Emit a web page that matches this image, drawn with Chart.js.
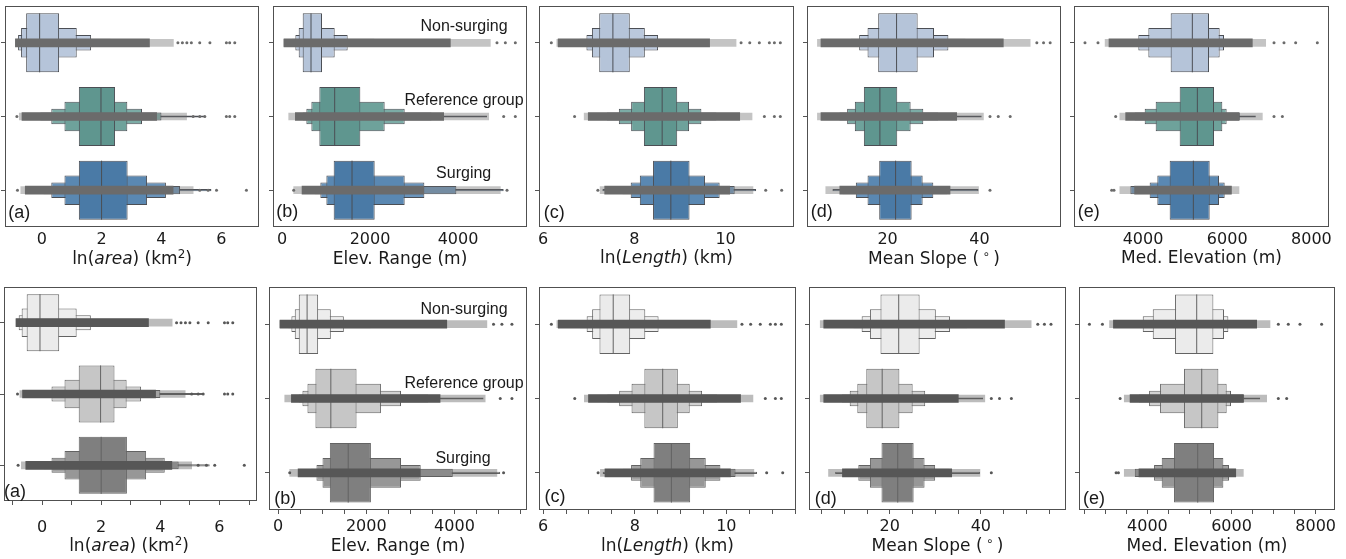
<!DOCTYPE html>
<html><head><meta charset="utf-8">
<script src="https://cdn.jsdelivr.net/npm/chart.js@4.4.1/dist/chart.umd.min.js"></script>
<style>
html,body{margin:0;padding:0;background:#fff;width:1346px;height:559px;overflow:hidden;position:relative}
canvas{position:absolute}
.t{position:absolute;white-space:nowrap;transform:translate(-50%,-50%);line-height:1;color:#1a1a1a;z-index:5}
.ttl{font-family:'DejaVu Sans';font-size:17px}
.let{font-family:'Liberation Sans';font-size:18px}
.ann{font-family:'Liberation Sans';font-size:16px}
.sup{font-size:0.7em;position:relative;top:-0.5em}
</style></head><body>
<script>
// ---------------- data ----------------
const groups = ['Non-surging', 'Reference group', 'Surging'];

// (a) ln(area) (km2)
const areaTicks = [0, 2, 4, 6];
const areaMedian = [-0.07, 1.98, 2.00];
const areaBoxes = [
  [[-0.52, 0.58], [1.24, 2.45], [1.24, 2.87]],
  [[-0.69, 1.17], [0.76, 2.86], [0.76, 3.52]],
  [[-0.79, 1.65], [0.32, 3.35], [0.32, 4.15]],
  [[-0.85, 2.30], [-0.05, 4.00], [0.06, 4.62]],
  [null, [-0.55, 5.45], [-0.55, 5.67]]
];
const areaDense = [[-0.88, 3.60], [-0.66, 3.84], [-0.55, 4.39]];
const areaSparse = [[-0.88, 4.40], [-0.75, 4.84], [-0.70, 5.06]];
const areaOutliers = [
  [4.55, 4.70, 4.85, 5.00, 5.28, 5.62, 6.17, 6.28, 6.45],
  [-0.83, 5.06, 5.28, 5.45, 6.17, 6.28, 6.45],
  [-0.81, 5.28, 5.56, 5.84, 6.84]
];

// (b) Elev. Range (m)
const rangeTicks = [0, 2000, 4000];
const rangeMedian = [659, 1197, 1591];
const rangeBoxes = [
  [[470, 909], [848, 1780], [1174, 2106]],
  [[379, 1197], [667, 2333], [1008, 2788]],
  [[303, 1492], [553, 2788], [871, 3235]],
  [[230, 2100], [470, 3400], [742, 3962]],
  [null, [300, 4660], [490, 5038]]
];
const rangeDense = [[45, 3826], [303, 3674], [455, 3220]];
const rangeSparse = [[38, 4735], [152, 4697], [265, 4962]];
const rangeOutliers = [
  [4886, 5076, 5303],
  [5038, 5303],
  [265, 5114]
];

// (c) ln(Length) (km)
const lengthTicks = [6, 8, 10];
const lengthMedian = [7.53, 8.61, 8.80];
const lengthBoxes = [
  [[7.23, 7.90], [8.21, 8.94], [8.41, 9.21]],
  [[7.07, 8.23], [7.93, 9.20], [8.12, 9.55]],
  [[6.95, 8.52], [7.66, 9.47], [7.92, 9.87]],
  [[6.80, 9.00], [7.40, 9.80], [7.74, 10.20]],
  [null, null, [7.30, 10.67]]
];
const lengthDense = [[6.33, 9.65], [6.99, 10.31], [7.35, 10.09]];
const lengthSparse = [[6.30, 10.23], [6.90, 10.58], [7.25, 10.60]];
const lengthOutliers = [
  [6.18, 10.34, 10.53, 10.74, 10.96, 11.07, 11.20],
  [6.69, 10.85, 11.07, 11.20],
  [7.20, 10.88, 11.23]
];

// (d) Mean Slope (deg)
const slopeTicks = [20, 40];
const slopeMedian = [21.96, 18.33, 21.75];
const slopeBoxes = [
  [[17.96, 26.55], [14.84, 22.11], [18.18, 25.24]],
  [[15.64, 30.11], [12.87, 25.02], [15.64, 27.64]],
  [[13.82, 33.24], [11.20, 27.78], [13.09, 29.96]],
  [[12.0, 37.0], [9.5, 31.0], [10.18, 33.0]],
  [null, [7.0, 40.5], [8.0, 39.8]]
];
const slopeDense = [[5.5, 45.2], [5.5, 35.05], [9.6, 33.6]];
const slopeSparse = [[4.73, 51.05], [4.73, 40.87], [6.55, 39.8]];
const slopeOutliers = [
  [52.5, 53.96, 55.4],
  [42.3, 44.1, 46.7],
  [42.3]
];

// (e) Med. Elevation (m)
const elevTicks = [4000, 6000, 8000];
const elevMedian = [5172, 5291, 5196];
const elevBoxes = [
  [[4657, 5568], [4871, 5687], [4633, 5584]],
  [[4127, 5821], [4301, 5884], [4340, 5805]],
  [[3889, 5924], [4040, 5987], [4158, 5940]],
  [null, [3800, 6300], [3700, 6100]],
  [null, [3600, 6680], null]
];
const elevDense = [[3192, 6597], [3588, 6280], [3800, 6100]];
const elevSparse = [[3100, 6914], [3450, 6835], [3450, 6280]];
const elevOutliers = [
  [2622, 2931, 7112, 7349, 7626, 8141],
  [3351, 7112, 7310],
  [3256, 3311]
];

// ---------------- styling / layout ----------------
const levelFrac = [0.8, 0.4, 0.21, 0.11, 0.03];
const topPalette = {
  levels: [
    ['#b5c4d9', '#5f968f', '#4a7aa6'],
    ['#bac8dc', '#6ea29b', '#5a88b2'],
    ['#bfcce0', '#7caca6', '#6a95bd'],
    ['#c6d2e4', '#8ab6b0', '#7aa2c6'],
    ['#cdd7e7', '#8ab6b0', '#7aa2c6']
  ],
  edge: '#4b4e54', strip: '#6b6b6b', sparse: 'rgba(107,107,107,0.4)'
};
const bottomPalette = {
  levels: [
    ['#ebebeb', '#c6c6c6', '#7f7f7f'],
    ['#ededed', '#cccccc', '#979797'],
    ['#efefef', '#d2d2d2', '#a2a2a2'],
    ['#f1f1f1', '#d8d8d8', '#adadad'],
    ['#f3f3f3', '#dddddd', '#b8b8b8']
  ],
  edge: '#636363', strip: '#575757', sparse: 'rgba(87,87,87,0.4)'
};

const panelData = [
  {median: areaMedian, boxes: areaBoxes, dense: areaDense, sparse: areaSparse, outliers: areaOutliers, ticks: areaTicks},
  {median: rangeMedian, boxes: rangeBoxes, dense: rangeDense, sparse: rangeSparse, outliers: rangeOutliers, ticks: rangeTicks},
  {median: lengthMedian, boxes: lengthBoxes, dense: lengthDense, sparse: lengthSparse, outliers: lengthOutliers, ticks: lengthTicks},
  {median: slopeMedian, boxes: slopeBoxes, dense: slopeDense, sparse: slopeSparse, outliers: slopeOutliers, ticks: slopeTicks},
  {median: elevMedian, boxes: elevBoxes, dense: elevDense, sparse: elevSparse, outliers: elevOutliers, ticks: elevTicks}
];

const layoutTop = [
  {fx: 5, fy: 6, fw: 254, fh: 221, min: -1.227, max: 7.26, step: 0, lp: 3},
  {fx: 273, fy: 6, fw: 254, fh: 221, min: -205, max: 5568, step: 0, lp: 3},
  {fx: 539, fy: 6, fw: 255, fh: 221, min: 5.91, max: 11.50, step: 0, lp: 3},
  {fx: 807, fy: 6, fw: 254, fh: 221, min: 2.46, max: 57.76, step: 0, lp: 3},
  {fx: 1074, fy: 6, fw: 255, fh: 221, min: 2361, max: 8418, step: 0, lp: 3}
];
const layoutBottom = [
  {fx: 1, fy: 287, fw: 256, fh: 214, min: -1.287, max: 7.27, step: 1, lp: 13},
  {fx: 269, fy: 287, fw: 258, fh: 223, min: -205, max: 5645, step: 500, lp: 3.5},
  {fx: 539, fy: 287, fw: 257, fh: 223, min: 5.91, max: 11.52, step: 0.5, lp: 3},
  {fx: 809, fy: 287, fw: 257, fh: 223, min: 2.26, max: 58.7, step: 5, lp: 3},
  {fx: 1079, fy: 287, fw: 256, fh: 223, min: 2374, max: 8459, step: 500, lp: 3.5}
];

const framePlugin = {
  id: 'frame',
  afterDraw(chart) {
    const a = chart.chartArea, c = chart.ctx;
    c.save();
    c.strokeStyle = '#505050';
    c.lineWidth = 1;
    c.strokeRect(Math.round(a.left) + 0.5, Math.round(a.top) + 0.5,
                 Math.round(a.right - a.left) - 1, Math.round(a.bottom - a.top) - 1);
    c.restore();
  }
};

function tickValues(L, D) {
  if (!L.step) return D.ticks.slice();
  const out = [];
  for (let v = Math.ceil(L.min / L.step) * L.step; v <= L.max + 1e-9; v += L.step) {
    out.push(Math.round(v * 1e6) / 1e6);
  }
  return out;
}

function buildPanel(L, D, row) {
  const padL = Math.min(L.fx, 12), padR = 16, padT = Math.min(L.fy, 8), padB = 40;
  const W = padL + L.fw + padR, H = padT + L.fh + padB;
  const cv = document.createElement('canvas');
  cv.width = W; cv.height = H;
  cv.style.left = (L.fx - padL) + 'px';
  cv.style.top = (L.fy - padT) + 'px';
  cv.style.width = W + 'px'; cv.style.height = H + 'px';
  document.body.appendChild(cv);
  const pal = row === 0 ? topPalette : bottomPalette;
  const datasets = [];
  const pts = [];
  D.outliers.forEach((arr, g) => arr.forEach(v => pts.push({x: v, y: groups[g]})));
  datasets.push({type: 'scatter', data: pts, pointRadius: 1.5, pointBackgroundColor: pal.strip,
                 pointBorderWidth: 0, order: 0});
  datasets.push({type: 'bar', data: D.dense, barThickness: 8, backgroundColor: pal.strip,
                 borderWidth: 0, grouped: false, order: 1});
  datasets.push({type: 'bar', data: D.sparse, barThickness: 7, backgroundColor: pal.sparse,
                 borderWidth: 0, grouped: false, order: 2});
  datasets.push({type: 'scatter', data: D.median.map((m, g) => ({x: m, y: groups[g]})),
                 pointStyle: 'line', pointRotation: 90,
                 pointRadius: c => { const a = c.chart.chartArea; return a ? (a.bottom - a.top) / 3 * levelFrac[0] / 2 : 0; },
                 pointBorderColor: pal.edge, pointBorderWidth: 1, order: 3});
  D.boxes.forEach((lv, k) => datasets.push({
    type: 'bar', data: lv, grouped: false, categoryPercentage: 1, barPercentage: levelFrac[k],
    backgroundColor: pal.levels[k], borderColor: pal.edge, borderWidth: 1, borderSkipped: false,
    order: 4 + k
  }));
  const isMajor = v => D.ticks.some(t => Math.abs(t - v) < 1e-6);
  const tv = tickValues(L, D);
  new Chart(cv, {
    type: 'bar',
    data: {labels: groups, datasets},
    options: {
      responsive: false, animation: false, events: [], indexAxis: 'y',
      layout: {padding: {left: 0, right: padR, top: padT, bottom: 0}},
      plugins: {legend: {display: false}, tooltip: {enabled: false}},
      scales: {
        x: {
          type: 'linear', position: 'bottom', min: L.min, max: L.max,
          border: {display: false},
          grid: {display: true, drawOnChartArea: false, drawTicks: row === 1, tickLength: 4, color: '#555'},
          ticks: {
            autoSkip: false, includeBounds: false, maxRotation: 0, minRotation: 0,
            padding: L.lp, color: '#1a1a1a', font: {family: 'DejaVu Sans', size: 16},
            callback: v => isMajor(v) ? String(Math.round(v)) : ''
          },
          afterBuildTicks: s => { s.ticks = tv.map(v => ({value: v})); },
          afterFit: s => { s.height = padB; s.paddingLeft = 0; s.paddingRight = 0; }
        },
        y: {
          type: 'category', labels: groups, offset: true, position: 'left',
          border: {display: false},
          grid: {display: true, drawOnChartArea: false, drawTicks: true, tickLength: 4, color: '#555', offset: false},
          ticks: {display: false},
          afterFit: s => { s.width = padL; s.paddingTop = 0; s.paddingBottom = 0; }
        }
      }
    },
    plugins: [framePlugin]
  });
}

layoutTop.forEach((L, i) => buildPanel(L, panelData[i], 0));
layoutBottom.forEach((L, i) => buildPanel(L, panelData[i], 1));

// ---------------- text ----------------
const titles = [
  'ln(<i>area</i>) (km<span class="sup">2</span>)',
  'Elev. Range (m)',
  'ln(<i>Length</i>) (km)',
  'Mean Slope (&thinsp;<span class="sup">∘</span>&thinsp;)',
  'Med. Elevation (m)'
];
const letters = ['(a)', '(b)', '(c)', '(d)', '(e)'];
const titleY = [[258, 258, 257, 258, 257], [545, 545, 545, 545, 545]];
const letterPos = [
  [[19.3, 212], [287.2, 211], [554.2, 212], [821.7, 211], [1088.8, 211]],
  [[15, 491], [285.3, 497.5], [555, 496], [825.7, 497.5], [1094, 497.5]]
];
const annText = ['Non-surging', 'Reference group', 'Surging'];
const annPos = [
  [[464, 26], [464, 100], [463.7, 172.5]],
  [[464, 308.5], [464, 383], [463, 457.5]]
];
function addText(cls, html, x, y) {
  const d = document.createElement('div');
  d.className = 't ' + cls;
  d.innerHTML = html;
  d.style.left = x + 'px';
  d.style.top = y + 'px';
  document.body.appendChild(d);
}
[layoutTop, layoutBottom].forEach((lay, r) => {
  lay.forEach((L, i) => {
    addText('ttl', titles[i], L.fx + L.fw / 2, titleY[r][i]);
    addText('let', letters[i], letterPos[r][i][0], letterPos[r][i][1]);
  });
  annText.forEach((t, k) => addText('ann', t, annPos[r][k][0], annPos[r][k][1]));
});
</script>
</body></html>
